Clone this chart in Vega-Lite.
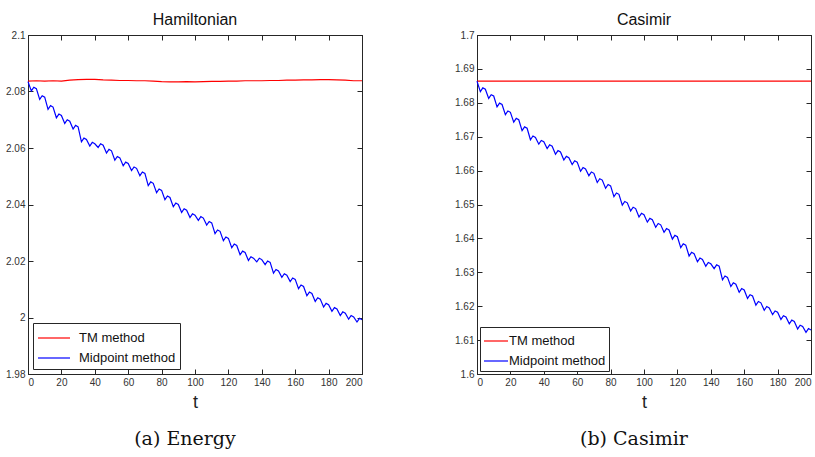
{
"$schema":"https://vega.github.io/schema/vega-lite/v6.json",
"padding":{"left":5,"top":11,"right":0,"bottom":0},
"background":"white",
"config":{
 "font":"Liberation Sans",
 "view":{"stroke":"#262626","strokeWidth":1},
 "axis":{"grid":false,"domainColor":"#262626","tickColor":"#262626","tickSize":-5,"labelFont":"Liberation Sans","labelFontSize":10,"labelColor":"#333333","labelPadding":8,"titleFont":"Liberation Sans","titleFontSize":18,"titleFontWeight":"normal","titleColor":"#222222","titlePadding":6},
 "title":{"font":"Liberation Sans","fontSize":16,"fontWeight":"normal","color":"#111111","offset":2},
 "legend":{"orient":"bottom-left","fillColor":"white","strokeColor":"#262626","symbolStrokeWidth":1.2,"symbolSize":400,"labelFont":"Liberation Sans","labelFontSize":13,"labelColor":"#111111","rowPadding":2,"labelLimit":0,"title":null}
},
"datasets":{
 "hTM":[{"t":0,"v":2.0837},{"t":5,"v":2.0838},{"t":10,"v":2.0837},{"t":15,"v":2.0838},{"t":20,"v":2.0837},{"t":25,"v":2.084},{"t":30,"v":2.0842},{"t":35,"v":2.0843},{"t":40,"v":2.0843},{"t":45,"v":2.0841},{"t":50,"v":2.084},{"t":55,"v":2.0839},{"t":60,"v":2.0839},{"t":65,"v":2.0838},{"t":70,"v":2.0838},{"t":75,"v":2.0837},{"t":80,"v":2.0835},{"t":85,"v":2.0834},{"t":90,"v":2.0834},{"t":95,"v":2.0835},{"t":100,"v":2.0834},{"t":105,"v":2.0835},{"t":110,"v":2.0836},{"t":115,"v":2.0836},{"t":120,"v":2.0837},{"t":125,"v":2.0837},{"t":130,"v":2.0838},{"t":135,"v":2.0838},{"t":140,"v":2.0838},{"t":145,"v":2.0839},{"t":150,"v":2.0839},{"t":155,"v":2.084},{"t":160,"v":2.084},{"t":165,"v":2.0841},{"t":170,"v":2.0841},{"t":175,"v":2.0842},{"t":180,"v":2.0842},{"t":185,"v":2.0841},{"t":190,"v":2.084},{"t":195,"v":2.0838},{"t":200,"v":2.0838}],
 "hMid":[{"t":0,"v":2.0835},{"t":2,"v":2.0802},{"t":3.5,"v":2.0815},{"t":5,"v":2.081},{"t":7,"v":2.0772},{"t":8.5,"v":2.0785},{"t":10,"v":2.078},{"t":12,"v":2.0737},{"t":13.5,"v":2.075},{"t":15,"v":2.0745},{"t":17,"v":2.0707},{"t":18.5,"v":2.072},{"t":20,"v":2.0715},{"t":22,"v":2.0687},{"t":23.5,"v":2.07},{"t":25,"v":2.0695},{"t":27,"v":2.0667},{"t":28.5,"v":2.068},{"t":30,"v":2.0675},{"t":32,"v":2.0622},{"t":33.5,"v":2.0635},{"t":35,"v":2.063},{"t":37,"v":2.0607},{"t":38.5,"v":2.062},{"t":40,"v":2.0615},{"t":42,"v":2.0602},{"t":43.5,"v":2.0615},{"t":45,"v":2.061},{"t":47,"v":2.0582},{"t":48.5,"v":2.0595},{"t":50,"v":2.059},{"t":52,"v":2.0557},{"t":53.5,"v":2.057},{"t":55,"v":2.0565},{"t":57,"v":2.0537},{"t":58.5,"v":2.055},{"t":60,"v":2.0545},{"t":62,"v":2.052},{"t":63.5,"v":2.0533},{"t":65,"v":2.0528},{"t":67,"v":2.0502},{"t":68.5,"v":2.0515},{"t":70,"v":2.051},{"t":72,"v":2.0467},{"t":73.5,"v":2.048},{"t":75,"v":2.0475},{"t":77,"v":2.0442},{"t":78.5,"v":2.0455},{"t":80,"v":2.045},{"t":82,"v":2.0417},{"t":83.5,"v":2.043},{"t":85,"v":2.0425},{"t":87,"v":2.0392},{"t":88.5,"v":2.0405},{"t":90,"v":2.04},{"t":92,"v":2.0372},{"t":93.5,"v":2.0385},{"t":95,"v":2.038},{"t":97,"v":2.0354},{"t":98.5,"v":2.0367},{"t":100,"v":2.0362},{"t":102,"v":2.0344},{"t":103.5,"v":2.0357},{"t":105,"v":2.0352},{"t":107,"v":2.0327},{"t":108.5,"v":2.034},{"t":110,"v":2.0335},{"t":112,"v":2.0297},{"t":113.5,"v":2.031},{"t":115,"v":2.0305},{"t":117,"v":2.0272},{"t":118.5,"v":2.0285},{"t":120,"v":2.028},{"t":122,"v":2.0247},{"t":123.5,"v":2.026},{"t":125,"v":2.0255},{"t":127,"v":2.0222},{"t":128.5,"v":2.0235},{"t":130,"v":2.023},{"t":132,"v":2.0202},{"t":133.5,"v":2.0215},{"t":135,"v":2.021},{"t":137,"v":2.0197},{"t":138.5,"v":2.021},{"t":140,"v":2.0205},{"t":142,"v":2.0187},{"t":143.5,"v":2.02},{"t":145,"v":2.0195},{"t":147,"v":2.0157},{"t":148.5,"v":2.017},{"t":150,"v":2.0165},{"t":152,"v":2.0142},{"t":153.5,"v":2.0155},{"t":155,"v":2.015},{"t":157,"v":2.0127},{"t":158.5,"v":2.014},{"t":160,"v":2.0135},{"t":162,"v":2.0102},{"t":163.5,"v":2.0115},{"t":165,"v":2.011},{"t":167,"v":2.0077},{"t":168.5,"v":2.009},{"t":170,"v":2.0085},{"t":172,"v":2.0057},{"t":173.5,"v":2.007},{"t":175,"v":2.0065},{"t":177,"v":2.0037},{"t":178.5,"v":2.005},{"t":180,"v":2.0045},{"t":182,"v":2.0022},{"t":183.5,"v":2.0035},{"t":185,"v":2.003},{"t":187,"v":2.0007},{"t":188.5,"v":2.002},{"t":190,"v":2.0015},{"t":192,"v":1.9994},{"t":193.5,"v":2.0007},{"t":195,"v":2.0002},{"t":197,"v":1.9984},{"t":198.5,"v":1.9997},{"t":200,"v":1.9992}],
 "cTM":[{"t":0,"v":1.6864},{"t":50,"v":1.6864},{"t":100,"v":1.6864},{"t":150,"v":1.6864},{"t":200,"v":1.6864}],
 "cMid":[{"t":0,"v":1.6864},{"t":2,"v":1.6833},{"t":3.5,"v":1.6844},{"t":5,"v":1.684},{"t":7,"v":1.6813},{"t":8.5,"v":1.6824},{"t":10,"v":1.682},{"t":12,"v":1.6788},{"t":13.5,"v":1.6799},{"t":15,"v":1.6795},{"t":17,"v":1.6765},{"t":18.5,"v":1.6776},{"t":20,"v":1.6772},{"t":22,"v":1.6743},{"t":23.5,"v":1.6754},{"t":25,"v":1.675},{"t":27,"v":1.6718},{"t":28.5,"v":1.6729},{"t":30,"v":1.6725},{"t":32,"v":1.6691},{"t":33.5,"v":1.6702},{"t":35,"v":1.6698},{"t":37,"v":1.6678},{"t":38.5,"v":1.6689},{"t":40,"v":1.6685},{"t":42,"v":1.6665},{"t":43.5,"v":1.6676},{"t":45,"v":1.6672},{"t":47,"v":1.6648},{"t":48.5,"v":1.6659},{"t":50,"v":1.6655},{"t":52,"v":1.6631},{"t":53.5,"v":1.6642},{"t":55,"v":1.6638},{"t":57,"v":1.6618},{"t":58.5,"v":1.6629},{"t":60,"v":1.6625},{"t":62,"v":1.6598},{"t":63.5,"v":1.6609},{"t":65,"v":1.6605},{"t":67,"v":1.6585},{"t":68.5,"v":1.6596},{"t":70,"v":1.6592},{"t":72,"v":1.6565},{"t":73.5,"v":1.6576},{"t":75,"v":1.6572},{"t":77,"v":1.6548},{"t":78.5,"v":1.6559},{"t":80,"v":1.6555},{"t":82,"v":1.6523},{"t":83.5,"v":1.6534},{"t":85,"v":1.653},{"t":87,"v":1.6498},{"t":88.5,"v":1.6509},{"t":90,"v":1.6505},{"t":92,"v":1.6481},{"t":93.5,"v":1.6492},{"t":95,"v":1.6488},{"t":97,"v":1.6463},{"t":98.5,"v":1.6474},{"t":100,"v":1.647},{"t":102,"v":1.6448},{"t":103.5,"v":1.6459},{"t":105,"v":1.6455},{"t":107,"v":1.6433},{"t":108.5,"v":1.6444},{"t":110,"v":1.644},{"t":112,"v":1.6418},{"t":113.5,"v":1.6429},{"t":115,"v":1.6425},{"t":117,"v":1.6398},{"t":118.5,"v":1.6409},{"t":120,"v":1.6405},{"t":122,"v":1.6373},{"t":123.5,"v":1.6384},{"t":125,"v":1.638},{"t":127,"v":1.6348},{"t":128.5,"v":1.6359},{"t":130,"v":1.6355},{"t":132,"v":1.6331},{"t":133.5,"v":1.6342},{"t":135,"v":1.6338},{"t":137,"v":1.6318},{"t":138.5,"v":1.6329},{"t":140,"v":1.6325},{"t":142,"v":1.6311},{"t":143.5,"v":1.6322},{"t":145,"v":1.6318},{"t":147,"v":1.6278},{"t":148.5,"v":1.6289},{"t":150,"v":1.6285},{"t":152,"v":1.6258},{"t":153.5,"v":1.6269},{"t":155,"v":1.6265},{"t":157,"v":1.6241},{"t":158.5,"v":1.6252},{"t":160,"v":1.6248},{"t":162,"v":1.6223},{"t":163.5,"v":1.6234},{"t":165,"v":1.623},{"t":167,"v":1.6203},{"t":168.5,"v":1.6214},{"t":170,"v":1.621},{"t":172,"v":1.6188},{"t":173.5,"v":1.6199},{"t":175,"v":1.6195},{"t":177,"v":1.6175},{"t":178.5,"v":1.6186},{"t":180,"v":1.6182},{"t":182,"v":1.6161},{"t":183.5,"v":1.6172},{"t":185,"v":1.6168},{"t":187,"v":1.6148},{"t":188.5,"v":1.6159},{"t":190,"v":1.6155},{"t":192,"v":1.6133},{"t":193.5,"v":1.6144},{"t":195,"v":1.614},{"t":197,"v":1.6123},{"t":198.5,"v":1.6134},{"t":200,"v":1.613}]
},
"spacing":89,
"resolve":{"scale":{"color":"independent","x":"independent","y":"independent"},"legend":{"color":"independent"}},
"hconcat":[
 {"title":{"text":"(a) Energy","orient":"bottom","anchor":"middle","font":"DejaVu Serif","fontSize":19,"fontWeight":"normal","color":"#111111","offset":18},
  "resolve":{"scale":{"color":"independent"},"legend":{"color":"independent"}},
  "vconcat":[
   {"width":334,"height":339,"title":{"text":"Hamiltonian"},
    "resolve":{"axis":{"x":"independent","y":"independent"}},
    "layer":[
     {"data":{"name":"hTM"},"mark":{"type":"line","strokeWidth":1.2},
      "encoding":{
       "x":{"field":"t","type":"quantitative","scale":{"domain":[0,200],"nice":false},"axis":{"orient":"bottom","values":[0,20,40,60,80,100,120,140,160,180,200],"title":"t"}},
       "y":{"field":"v","type":"quantitative","scale":{"domain":[1.98,2.1],"zero":false,"nice":false},"axis":{"orient":"left","values":[1.98,2.0,2.02,2.04,2.06,2.08,2.1],"format":".2~f","title":null}},
       "color":{"datum":"TM method","type":"nominal","scale":{"domain":["TM method","Midpoint method"],"range":["#ff0000","#0000ff"]},"legend":{"offset":5,"padding":4,"symbolType":"M-1,0H2.2","labelOffset":20}}}},
     {"data":{"name":"hMid"},"mark":{"type":"line","strokeWidth":1.2},
      "encoding":{
       "x":{"field":"t","type":"quantitative","axis":{"orient":"top","values":[0,20,40,60,80,100,120,140,160,180,200],"labels":false,"title":null}},
       "y":{"field":"v","type":"quantitative","axis":{"orient":"right","values":[1.98,2.0,2.02,2.04,2.06,2.08,2.1],"labels":false,"title":null}},
       "color":{"datum":"Midpoint method","type":"nominal"}}}
    ]}
  ]},
 {"title":{"text":"(b) Casimir","orient":"bottom","anchor":"middle","font":"DejaVu Serif","fontSize":19,"fontWeight":"normal","color":"#111111","offset":18},
  "resolve":{"scale":{"color":"independent"},"legend":{"color":"independent"}},
  "vconcat":[
   {"width":334,"height":339,"title":{"text":"Casimir"},
    "resolve":{"axis":{"x":"independent","y":"independent"}},
    "layer":[
     {"data":{"name":"cTM"},"mark":{"type":"line","strokeWidth":1.2},
      "encoding":{
       "x":{"field":"t","type":"quantitative","scale":{"domain":[0,200],"nice":false},"axis":{"orient":"bottom","values":[0,20,40,60,80,100,120,140,160,180,200],"title":"t"}},
       "y":{"field":"v","type":"quantitative","scale":{"domain":[1.6,1.7],"zero":false,"nice":false},"axis":{"orient":"left","values":[1.6,1.61,1.62,1.63,1.64,1.65,1.66,1.67,1.68,1.69,1.7],"format":".2~f","title":null}},
       "color":{"datum":"TM method","type":"nominal","scale":{"domain":["TM method","Midpoint method"],"range":["#ff0000","#0000ff"]},"legend":{"offset":3,"padding":3,"symbolType":"M-1,0H1.4","labelOffset":4}}}},
     {"data":{"name":"cMid"},"mark":{"type":"line","strokeWidth":1.2},
      "encoding":{
       "x":{"field":"t","type":"quantitative","axis":{"orient":"top","values":[0,20,40,60,80,100,120,140,160,180,200],"labels":false,"title":null}},
       "y":{"field":"v","type":"quantitative","axis":{"orient":"right","values":[1.6,1.61,1.62,1.63,1.64,1.65,1.66,1.67,1.68,1.69,1.7],"labels":false,"title":null}},
       "color":{"datum":"Midpoint method","type":"nominal"}}}
    ]}
  ]}
]
}
